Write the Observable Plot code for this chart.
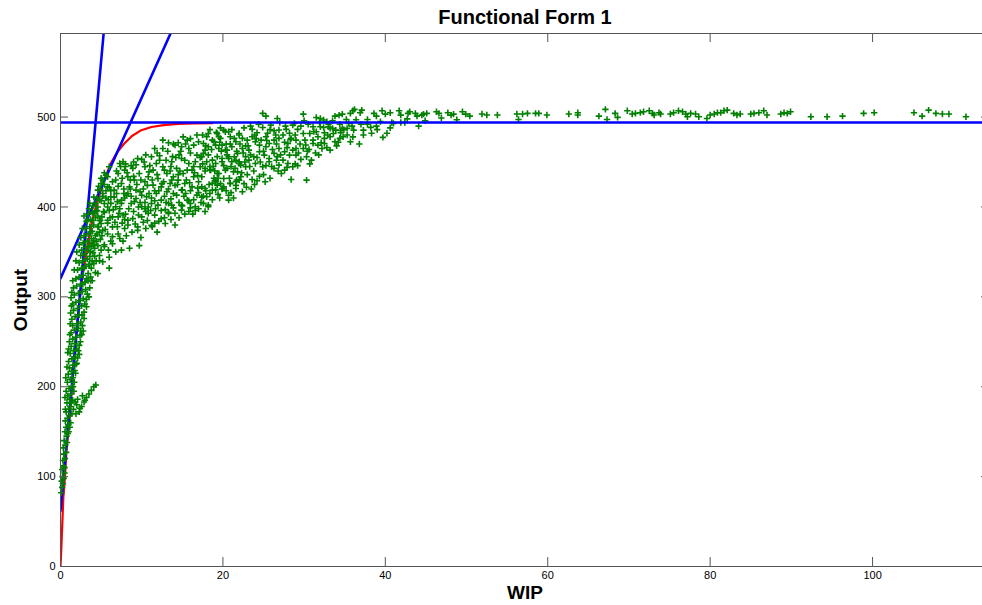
<!DOCTYPE html>
<html>
<head>
<meta charset="utf-8">
<script src="https://cdn.jsdelivr.net/npm/d3@7"></script>
<script src="https://cdn.jsdelivr.net/npm/@observablehq/plot@0.6"></script>
<style>
  html, body { margin: 0; padding: 0; background: #fff; overflow: hidden; width: 982px; height: 605px; }
  #chart svg { max-width: none !important; display: block; }
</style>
</head>
<body>
<div id="chart"></div>
<script>
// ---------- data ----------
const chartTitle = "Functional Form 1";
const xLabel = "WIP";
const yLabel = "Output";
const xTicks = [0, 20, 40, 60, 80, 100];
const yTicks = [0, 100, 200, 300, 400, 500];

// blue reference lines
const capacityLevel = 494;
const steepLine = [[0, 62], [5.31, 593]];
const shallowLine = [[0, 320.5], [13.55, 593]];

// red fitted curve
const redCurve = [[0,0],[0.1,20],[0.2,43],[0.35,77],[0.55,100],[0.74,129],[1.03,157],[1.23,177],[1.64,229],[2.2,285],[2.7,323],[3.28,354],[3.9,385],[4.5,405],[5.3,428],[6.16,448],[7.0,461],[7.8,470],[8.8,479],[9.85,485],[11.2,489],[12.7,491],[14.5,492.5],[16.5,493],[18.7,493.3]];

// green observations: steep band near the origin
const bandPoints = [[0.1,82],[0.2,88],[0.15,95],[0.3,92],[0.25,100],[0.4,98],[0.5,104],
[0.2,108],[0.35,112],[0.5,110],[0.3,118],[0.55,120],[0.4,125],[0.7,127],[0.35,132],[0.6,135],[0.8,138],[0.45,140],[0.75,145],[0.9,148],[0.55,150],
[0.7,155],[0.95,158],[0.6,162],[0.85,165],[1.1,168],[0.7,172],[1.0,175],[1.2,178],[0.8,182],[1.1,186],[0.9,190],[1.3,192],[0.7,195],[1.05,198],[1.4,200],
[0.85,205],[1.2,208],[1.5,210],[0.95,214],[1.35,217],[1.1,221],[1.6,224],[1.0,228],[1.4,231],[1.8,233],[1.2,237],[1.6,240],[2.0,242],[1.3,245],[1.75,248],[2.3,246],[1.1,250],
[1.5,253],[1.9,255],[2.4,257],[1.3,260],[1.7,263],[2.2,265],[2.8,262],[1.5,268],[2.0,270],[2.5,272],[1.4,275],[1.8,278],[2.3,280],[2.9,283],[1.6,285],[2.1,287],[2.6,290],[1.5,292],[1.9,294],[2.4,296],[3.2,289],[2.8,298],[1.3,299],
[1.7,302],[2.2,304],[2.7,306],[3.3,303],[1.6,310],[2.0,312],[2.5,314],[3.0,316],[3.6,310],[1.9,320],[2.3,322],[2.8,324],[3.4,326],[2.1,330],[2.6,332],[3.1,334],[3.8,332],[4.3,327],[2.3,338],[2.8,340],[3.3,342],[2.5,346],[3.0,348],[3.6,345],[4.0,349],[4.8,340],
[2.6,352],[3.1,355],[3.6,357],[4.2,354],[5.0,352],[2.8,360],[3.3,362],[3.8,365],[4.4,362],[5.4,358],[2.9,368],[3.4,370],[3.9,373],[4.5,370],[5.1,368],[6.2,362],[3.1,376],[3.6,378],[4.1,380],[4.7,378],[5.5,375],[3.2,384],[3.7,386],[4.3,388],[4.9,385],[3.4,392],[3.9,394],[4.5,396],[3.5,398],[4.0,401],
[1.0,150],[1.25,160],[1.4,170],[1.5,185],[1.65,195],[1.7,205],[1.85,215],[1.9,225],[2.1,232],[2.2,240],[2.45,250],[2.6,258],[2.7,268],[2.9,276],[3.0,292],[3.2,297],[3.5,300],[3.1,308],[3.4,318],[3.7,322],[3.6,336],[3.9,340],[4.2,345],[3.7,350],[4.1,358],[4.6,357],[4.3,368],[4.8,372],[4.0,385],[4.6,390],
[1.15,155],[1.3,182],[1.55,200],[1.75,218],[2.0,226],[2.3,236],[2.5,262],[2.65,280],[2.75,314],[3.2,320],[2.9,332],[3.5,336],[3.4,352],[3.9,360],[3.7,371],
[0.6,175],[0.55,188],[0.65,210],[0.8,222],[0.9,238],[1.0,242],[1.15,258],[1.2,270],[1.25,282],[1.35,290],[1.4,305],[1.5,318],[1.7,330],[1.9,340],[2.0,350],[2.3,358],[2.5,366],[2.7,376],[2.9,390]];

// small side branch around Output 170-200
const branchPoints = [[1.6,175],[1.9,170],[2.0,180],[2.1,186],[2.3,172],[2.6,178],[2.7,190],[2.9,183],[3.0,185],[3.2,188],[3.5,192],[3.8,196],[4.1,200],[4.35,202],[2.4,176],[1.8,183]];

// main cloud
const cloudPoints = [
[9.7,357],[8.5,354],[7.5,352],[6.8,350],[6.0,344],[4.8,346],[4.1,337],[4.6,326],[5.2,339],[3.7,318],[6.0,332],[5.4,356],[8.1,368],[7.3,365],[6.4,359],[5.8,370],[5.2,374],[4.6,378],[4.1,363],[3.3,385],
[4.1,393],[4.8,385],[5.4,394],[5.8,382],[6.4,389],[7.0,378],[7.7,391],[8.3,380],[8.9,387],[9.5,374],[10.2,383],[10.8,393],[11.6,382],[12.4,387],[13.3,394],
[5.0,407],[5.8,400],[6.6,411],[7.5,404],[8.3,415],[9.1,406],[10.0,413],[10.8,400],[11.6,407],[12.4,396],[13.3,404],[14.1,393],[14.9,402],[15.8,407],[16.6,396],[17.4,411],[18.2,402],[19.1,419],[19.9,420],[20.7,413],[21.6,424],[22.4,417],
[5.6,435.4],[6.0,444.7],[7.3,448.4],[7.7,450.3],[9.5,454.0],[10.0,452.9],[11.2,455.8],[12.6,474.4],[13.3,471.4],[14.1,468.8],[14.5,471.4],[15.8,465.1],[16.4,468.8],[17.0,472.6],[18.0,478.1],[18.7,474.4],[19.5,478.1],[20.1,485.5],[20.7,483.7],[21.4,476.3],[22.0,480.0],[15.6,474.4],[14.9,467.0],[16.8,457.7],[17.6,459.6],[19.1,468.8],[20.3,463.3],[20.7,455.8],[21.1,450.3],[22.0,448.4],
[5.8,433.6],[6.4,428.0],[7.1,437.3],[7.9,441.0],[8.3,433.6],[8.9,442.9],[9.1,429.9],[9.7,437.3],[10.4,444.7],[10.8,433.6],[11.4,441.0],[11.8,448.4],[12.0,431.7],[12.6,444.7],[13.1,437.3],[13.7,450.3],[13.9,433.6],[14.3,442.9],[14.9,454.0],[15.1,437.3],[15.8,448.4],[16.2,441.0],[16.6,450.3],[17.2,444.7],[17.4,433.6],[18.0,450.3],[18.5,441.0],[19.1,448.4],[19.5,437.3],[19.9,454.0],[20.5,442.9],[21.4,455.8],[21.8,439.1],[22.2,446.6],[17.0,428.0],[16.4,433.6],[15.3,426.1],[14.5,429.9],[13.5,426.1],[12.4,422.4],[11.4,424.3],[10.4,428.0],[9.3,418.7],[8.5,422.4],[7.5,426.1],[6.6,418.7],[5.8,422.4],[5.2,415.0],[5.0,426.1],[4.6,418.7],
[4.8,407.6],[5.4,403.9],[6.2,411.3],[6.8,400.2],[7.5,407.6],[8.1,413.2],[8.7,403.9],[9.3,409.4],[10.0,400.2],[10.6,411.3],[11.2,403.9],[11.8,415.0],[12.4,407.6],[13.1,416.9],[13.7,402.0],[14.3,413.2],[14.9,418.7],[15.6,407.6],[16.2,422.4],[16.8,413.2],[17.4,422.4],[18.0,411.3],[18.7,418.7],[19.3,424.3],[20.1,422.4],[20.9,426.1],[21.6,420.6],[18.2,400.2],[16.6,400.2],[14.9,396.5],[13.3,392.7],[11.6,390.9],[10.0,389.0],[8.3,385.3],[7.1,389.0],[5.8,385.3],[5.0,381.6],[6.4,377.9],[7.9,376.0],[9.5,377.9],[11.2,379.7],[12.9,381.6],[16.0,403.9],[20.7,407.6],[22.0,429.9],[20.1,431.7],[19.1,428.0],
[23.4,490.0],[23.6,486.3],[24.2,482.6],[24.9,488.5],[25.9,491.1],[26.3,484.8],[26.9,485.6],[27.8,486.3],[28.6,491.1],[28.8,493.0],[29.2,486.3],[29.6,490.0],[31.1,489.3],[31.5,483.7],[32.0,489.3],[32.4,488.5],[32.5,482.6],[33.2,487.4],[33.6,481.8],
[18.2,481.8],[19.3,481.8],[19.7,476.3],[20.3,483.7],[20.9,478.1],[21.6,472.6],[22.0,481.8],[22.4,476.3],[23.0,474.4],[23.6,478.1],[24.0,472.6],[24.7,474.4],[25.3,478.1],[25.7,470.7],[26.3,474.4],[26.9,476.3],[27.4,480.0],[28.0,470.7],[28.4,476.3],[29.0,474.4],[29.9,481.8],[30.1,474.4],[30.7,481.8],[31.1,474.4],[31.7,478.1],[32.1,471.5],[32.5,476.3],[33.2,478.1],[33.8,472.6],[34.4,476.3],[34.8,478.1],[35.7,472.6],
[17.6,470.7],[18.2,467.0],[18.9,472.6],[19.5,465.1],[19.9,468.8],[20.5,463.3],[21.1,467.0],[21.8,459.6],[22.4,465.1],[22.8,455.9],[23.2,463.3],[23.8,455.9],[24.5,461.4],[25.1,457.7],[25.7,454.0],[26.3,459.6],[26.9,446.6],[27.4,452.1],[28.0,448.4],[28.6,444.7],[29.0,457.7],[29.6,452.9],[30.3,455.9],[30.9,452.1],[27.6,441.0],[27.2,437.3],[28.4,430.6],[30.3,429.9],[23.6,430.6],[24.2,429.1],[21.6,428.0],[20.9,426.2],[19.9,420.6],[18.7,426.2],[19.1,429.9],[17.8,420.6],[17.6,412.1],[18.4,441.0],[19.3,437.3],[20.3,441.0],[21.3,439.2],[22.2,433.6],[22.8,444.7],[24.9,444.7],[25.7,450.3],[26.3,442.9],[23.2,452.1],[24.0,448.4],[19.9,450.3],[18.7,452.1],[20.7,454.0],[17.8,442.9],[17.4,455.9],[17.8,463.3],[22.0,450.3],
[33.2,463.3],[32.5,470.7],[31.7,468.8],[31.1,470.7],[30.6,464.0],[29.9,465.1],[29.0,465.1],[28.6,463.3],[28.2,457.7],[27.6,461.4],[26.9,465.1],[26.1,464.0],[25.3,467.0],[24.5,468.8],
[5.3,395],[5.9,408],[6.5,397],[6.9,415],[7.2,393],[7.8,420],[8.4,398],[8.6,430],[9.0,395],[9.4,425],[9.8,405],[10.2,420],[10.5,395],[10.9,415],[11.3,430],[11.7,398],[12.1,418],[12.7,428],[13.0,405],[13.5,440],[13.9,415],[14.4,425],[14.7,440],[15.2,412],[15.5,430],[16.0,418],[16.4,445],[16.9,435],[17.3,405],[17.8,440],[18.3,425],[18.8,445],[19.4,432],[19.8,462],[20.4,470],[21.0,445],[21.7,462],[22.3,438],[22.8,468],[23.3,445],[23.9,480],[24.6,450],[25.0,436],[25.5,482],[26.0,445],[26.6,470],[27.1,458],[27.7,490],[28.3,475],[28.9,448],[29.5,470],[30.5,492],[31.4,460],[32.2,465],[33.0,492],[34.0,468],[34.5,485],[35.3,480],[36.0,478],[36.8,470],[37.0,492],[38.3,482],[39.0,486],[40.6,488],
[6.1,388],[7.6,382],[8.8,372],[9.9,366],[10.5,376],[11.9,372],[12.8,388],[14.1,380],[15.3,392],[16.3,392],[17.0,398],[6.0,422],[6.8,430],[7.4,445],[8.0,448],[8.7,446],[9.0,450],[10.5,458],[11.6,465],[11.9,460],[12.2,452],[13.2,462],[13.8,456],[14.6,458],[15.1,478],[16.0,476],[16.8,480],[17.5,480],[18.4,486],[19.2,483],[4.5,410],[4.3,404],[5.2,430],[5.6,418]];

// further points filling the dense part of the cloud
const denseCloudPoints = [
[6.7,383],[7.9,386],[9.2,381],[10.7,385],[11.3,378],[12.1,384],[13.6,386],[14.6,388],[15.8,395],[17.8,395],
[5.1,389],[6.0,396],[7.3,398],[8.0,392],[9.6,391],[10.4,398],[11.1,396],[12.9,397],[13.9,399],[15.0,401],[16.0,399],[17.6,404],[18.7,408],[19.6,410],[21.0,416],[22.9,422],[23.9,425],[25.2,428],
[4.6,400],[5.6,410],[6.2,404],[7.0,406],[7.9,410],[8.7,412],[9.6,400],[10.4,405],[11.2,410],[12.0,402],[12.8,412],[13.6,409],[14.6,405],[15.4,415],[16.4,408],[17.0,416],[18.4,415],[19.4,414],[20.4,418],[21.3,410],[22.6,426],[23.5,420],
[4.9,420],[5.4,425],[6.2,418],[7.1,423],[7.8,415],[8.6,420],[9.8,417],[10.7,424],[11.6,418],[12.5,426],[13.3,420],[14.1,424],[15.0,419],[15.9,427],[16.9,421],[17.9,418],[18.9,432],[19.7,426],[20.8,432],[21.7,430],[23.0,436],[24.5,434],[25.8,432],[26.8,440],
[5.4,438],[6.9,440],[7.6,432],[8.2,438],[9.0,434],[9.9,430],[10.9,439],[11.9,436],[12.8,441],[13.7,430],[14.5,436],[15.6,441],[16.5,438],[17.5,448],[18.4,445],[19.0,440],[20.1,446],[21.5,443],[22.7,450],[23.8,440],[25.3,446],[26.6,452],[27.9,444],[29.2,446],[30.7,448],
[8.0,445],[9.3,447],[10.3,450],[11.0,446],[12.2,457],[13.0,452],[13.6,445],[14.2,455],[15.3,452],[16.0,460],[17.2,455],[18.2,458],[19.3,456],[20.5,458],[21.6,452],[22.5,460],[23.4,458],[24.2,455],[25.0,462],[26.7,456],[27.9,466],[29.3,460],[30.4,462],[31.8,458],[32.8,466],[34.2,472],
[12.6,465],[13.9,470],[14.8,462],[15.4,470],[17.9,468],[18.6,464],[19.6,472],[20.9,470],[22.1,470],[23.1,468],[24.1,476],[25.4,474],[26.5,480],[27.6,472],[28.9,480],[30.2,469],[31.2,484],[32.9,480],[34.9,486],[35.9,490],
[19.7,488],[21.1,486],[22.6,488],[24.4,492],[25.8,486],[27.0,494],[28.2,482],[30.0,496],[31.9,494],[33.5,496],[34.4,492],[36.4,497],[37.8,492],[39.4,495],[40.2,482],[42.7,498],[44.9,496],[46.9,499],[48.8,497],
[3.9,318],[4.4,340],[3.8,356],[4.9,364],[5.9,352],[3.6,404],[4.1,411],[4.7,423],[5.0,432],[4.4,395],[5.2,412],[6.4,367],[7.1,370],[7.7,362]];

// plateau near capacity
const tailPoints = [
[24.9,504.1],[25.3,501.1],[26.7,498.5],[29.9,503.3],[31.5,499.6],[32.0,498.5],[32.4,496.7],[32.8,494.8],[33.8,501.1],[34.3,502.2],[34.7,503.3],[35.2,497.4],[35.7,504.1],[36.0,507.0],[36.2,508.6],[36.9,504.8],[37.1,507.8],[37.8,497.4],[38.6,504.1],[38.9,501.1],[39.6,507.0],[40.0,503.3],[40.6,504.8],[41.7,507.0],[41.9,502.2],[42.8,504.1],[43.0,505.9],[43.7,504.1],[43.9,501.1],[44.5,502.2],[44.7,503.3],[45.1,504.1],[46.3,505.9],[46.6,504.1],[47.7,504.8],[48.1,502.2],[48.4,503.3],[49.5,505.9],[49.9,503.3],[50.4,501.1],
[33.9,485.5],[33.5,487.4],[33.0,489.2],[35.5,493.0],[36.1,485.5],[37.3,485.5],[37.3,480.0],[39.7,477.4],[40.8,494.0],[41.0,493.0],[41.9,494.0],[42.4,494.0],[44.1,490.0],[38.9,490.0],[38.2,488.6],[35.3,487.4],[34.7,487.4],[34.5,482.6],
[51.9,503.4],[52.5,502.3],[53.8,502.3],[56.2,503.4],[56.4,497.4],[56.9,503.4],[57.5,504.1],[58.5,504.1],[58.9,504.1],[59.9,502.3],[62.6,503.4],[63.7,502.3],[63.7,504.9],[66.3,501.1],[67.1,508.6],[67.3,497.4],[68.3,504.1],[68.6,499.7],[69.8,507.1],[70.4,503.4],[70.8,504.1],[71.4,504.9],[71.8,506.0],[72.5,507.1],[72.9,504.1],[73.1,502.3],[73.7,504.9],[73.9,503.4],[75.1,503.4],[75.5,504.9],[76.1,507.1],[76.6,506.0],[77.0,503.4],[77.2,500.4],[77.6,504.1],[78.2,503.4],[78.6,500.4],[79.6,498.5],[80.0,502.3],[80.5,503.4],[80.9,504.9],[81.3,504.9],[81.7,507.1],[82.1,507.8],[82.9,504.1],[83.3,502.3],[83.7,503.4],[85.0,503.4],[85.4,504.1],[86.0,504.9],[86.6,507.1],[87.0,502.3],[88.7,503.4],[89.1,504.9],[89.5,504.1],[89.9,506.0],[92.4,500.4],[94.4,500.4],[96.3,501.1],[98.9,504.1],[100.2,504.9],[105.1,504.9],[106.1,501.1],[106.9,507.8],[107.8,504.1],[108.6,503.4],[109.4,503.4],[111.5,500.4]];

// ---------- chart ----------
const scatterPoints = [...bandPoints, ...branchPoints, ...cloudPoints, ...denseCloudPoints, ...tailPoints];
const W = 989, H = 605, mT = 33, mB = 39, mL = 60, mR = 0;
const innerW = W - mL - mR, innerH = H - mT - mB;
const axisColor = "#555";
const font = "'Liberation Sans', Arial, Helvetica, sans-serif";

const chart = Plot.plot({
  width: W, height: H,
  marginTop: mT, marginBottom: mB, marginLeft: mL, marginRight: mR,
  x: {domain: [0, 114.4], axis: null},
  y: {domain: [0, 593], axis: null},
  style: {fontFamily: font, background: "white", maxWidth: "none", overflow: "hidden"},
  marks: [
    Plot.line(redCurve, {x: d => d[0], y: d => d[1], stroke: "#ff0000", strokeWidth: 2.2, clip: true}),
    Plot.line(steepLine, {x: d => d[0], y: d => d[1], stroke: "#0000ff", strokeWidth: 2.6, clip: true}),
    Plot.line(shallowLine, {x: d => d[0], y: d => d[1], stroke: "#0000ff", strokeWidth: 2.6, clip: true}),
    Plot.dot(scatterPoints, {x: d => d[0], y: d => d[1], symbol: "plus", r: 2.2, stroke: "#008000", strokeWidth: 1.6}),
    Plot.ruleY([capacityLevel], {stroke: "#0000ff", strokeWidth: 2.6}),
    Plot.frame({stroke: axisColor}),
    // inward ticks (bottom, top, left, right)
    Plot.ruleX(xTicks, {x: d => d, insetTop: innerH - 9, stroke: axisColor}),
    Plot.ruleX(xTicks, {x: d => d, insetBottom: innerH - 9, stroke: axisColor}),
    Plot.ruleY(yTicks, {y: d => d, insetRight: innerW - 8, stroke: axisColor}),
    Plot.ruleY(yTicks, {y: d => d, insetLeft: innerW - 8, stroke: axisColor}),
    // tick labels
    Plot.text(xTicks, {x: d => d, text: d => String(d), frameAnchor: "bottom", dy: 12, fontSize: 11, fill: "#000"}),
    Plot.text(yTicks, {y: d => d, text: d => String(d), frameAnchor: "left", dx: -5, textAnchor: "end", fontSize: 11, fill: "#000"}),
    // titles
    Plot.text([chartTitle], {text: d => d, frameAnchor: "top", dy: -16, lineAnchor: "middle", textAnchor: "middle", fontSize: 20, fontWeight: "bold", fill: "#000"}),
    Plot.text([xLabel], {text: d => d, frameAnchor: "bottom", dy: 26, lineAnchor: "middle", textAnchor: "middle", fontSize: 19, fontWeight: "bold", fill: "#000"}),
    Plot.text([yLabel], {text: d => d, frameAnchor: "left", dx: -40, rotate: -90, lineAnchor: "middle", textAnchor: "middle", fontSize: 19, fontWeight: "bold", fill: "#000"})
  ]
});
chart.style.maxWidth = "none";
document.getElementById("chart").appendChild(chart);
</script>
</body>
</html>
